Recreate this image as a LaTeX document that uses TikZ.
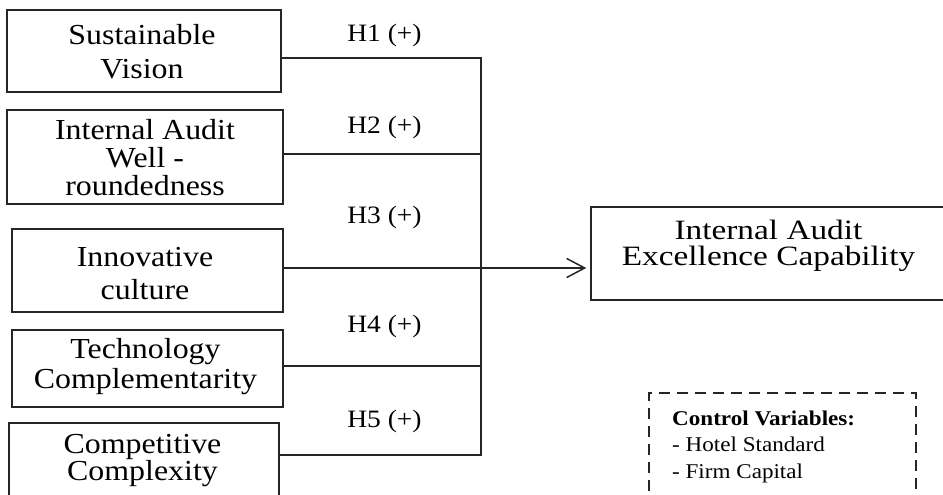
\documentclass[tikz,border=0pt]{standalone}
\usepackage{fontspec}
\setmainfont[FakeStretch=1.1]{Liberation Serif}
\newfontfamily\widefont[FakeStretch=1.19]{Liberation Serif}
\usetikzlibrary{arrows.meta}
\begin{document}
\begin{tikzpicture}[x=1pt,y=-1pt,
  boxnode/.style={draw=black!85, line width=1.4pt, rectangle, inner sep=0pt},
  boxtxt/.style={inner sep=0pt, anchor=base, align=center},
  hyplab/.style={inner sep=0pt, anchor=base, font=\fontsize{25}{27}\selectfont},
  conn/.style={draw=black!85, line width=1.3pt},
  ctrlbox/.style={draw=black!85, line width=1.3pt, dash pattern=on 11pt off 7pt, rectangle, inner sep=0pt}]
\useasboundingbox (0,0) rectangle (943,495);
\fill[white] (0,0) rectangle (943,495);

% predictor boxes
\node[boxnode, minimum width=274pt, minimum height=82pt] (b1) at (144,51) {};
\node[boxnode, minimum width=276pt, minimum height=94pt] (b2) at (145,157) {};
\node[boxnode, minimum width=271pt, minimum height=83pt] (b3) at (147.5,270.5) {};
\node[boxnode, minimum width=271pt, minimum height=77pt] (b4) at (147.5,368.5) {};
\node[boxnode, minimum width=270pt, minimum height=84pt] (b5) at (144,465) {};

% texts: anchor=base is the baseline of the last line
\node[boxtxt, font=\fontsize{29}{33}\selectfont] (t1) at (142,78) {Sustainable\\Vision};
\node[boxtxt, font=\fontsize{29}{28}\selectfont] (t2) at (145,195) {Internal Audit\\Well -\\roundedness};
\node[boxtxt, font=\fontsize{29}{33}\selectfont] (t3) at (145,299) {Innovative\\culture};
\node[boxtxt, font=\fontsize{29}{30}\selectfont] (t4) at (145.5,388) {Technology\\Complementarity};
\node[boxtxt, font=\fontsize{29}{27}\selectfont] (t5) at (142.5,480) {Competitive\\Complexity};

% outcome box
\node[boxnode, minimum width=355pt, minimum height=93pt] (tg) at (768.5,253.5) {};
\node[boxtxt, font=\widefont\fontsize{28}{26}\selectfont] (tgt) at (768.5,265.5) {Internal Audit\\Excellence Capability};

% control variables
\node[ctrlbox, minimum width=267pt, minimum height=117pt] (cv) at (782.5,451.5) {};
\node[inner sep=0pt, anchor=base west, align=left, font=\fontsize{21}{26.5}\selectfont] (cvt) at (672,478)
  {\textbf{Control Variables:}\\- Hotel Standard\\- Firm Capital};

% hypothesis labels
\node[hyplab] (h1) at (384.5,42) {H1 (+)};
\node[hyplab] (h2) at (384.5,133) {H2 (+)};
\node[hyplab] (h3) at (384.5,223) {H3 (+)};
\node[hyplab] (h4) at (384.5,332) {H4 (+)};
\node[hyplab] (h5) at (384.5,427) {H5 (+)};

% trunk coordinates
\coordinate (k1) at (481,58);
\coordinate (k2) at (481,154);
\coordinate (k3) at (481,268);
\coordinate (k4) at (481,366);
\coordinate (k5) at (481,455);

\draw[conn] (b1.east |- k1) -- (k1) -- (k5) -- (b5.east |- k5);
\draw[conn] (b2.east |- k2) -- (k2);
\draw[conn] (b4.east |- k4) -- (k4);
\draw[conn, -{Straight Barb[length=18pt,width=19pt,line width=1.5pt]}, shorten >=4pt] (b3.east |- k3) -- (tg.west |- k3);
\end{tikzpicture}
\end{document}
